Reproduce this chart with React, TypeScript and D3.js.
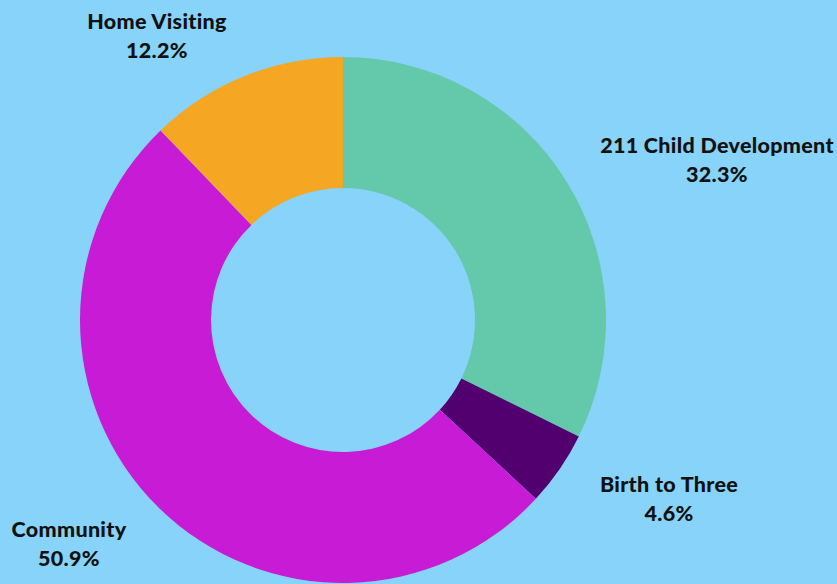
import React from "react";
import * as d3 from "d3";

const categories = ["211 Child Development", "Birth to Three", "Community", "Home Visiting"];
const values = [32.3, 4.6, 50.9, 12.2];
const colors = ["#64C8AA", "#520070", "#C71BD6", "#F5A623"];
const labelPos: [number, number][] = [
  [717, 153],
  [669, 492],
  [69, 537],
  [157, 29],
];

const W = 837;
const H = 584;

export default function App() {
  const cx = 343;
  const cy = 320;
  const outerR = 263;
  const innerR = 132;
  const pie = d3.pie<number>().sort(null).value((d) => d);
  const arcs = pie(values);
  const arcGen = d3.arc<d3.PieArcDatum<number>>().innerRadius(innerR).outerRadius(outerR);
  return (
    <svg
      width={W}
      height={H}
      style={{ position: "absolute", left: 0, top: 0, display: "block" }}
    >
      <rect x={0} y={0} width={W} height={H} fill="#87D3FA" />
      <g transform={`translate(${cx},${cy})`}>
        {arcs.map((a, i) => (
          <path key={i} d={arcGen(a) || ""} fill={colors[i]} />
        ))}
      </g>
      {categories.map((c, i) => (
        <text
          key={c}
          x={labelPos[i][0]}
          y={labelPos[i][1]}
          textAnchor="middle"
          fontFamily="Lato, 'Open Sans', sans-serif"
          fontWeight={900}
          fontSize={21.5}
          letterSpacing={0.3}
          fill="#111111"
        >
          <tspan x={labelPos[i][0]}>{c}</tspan>
          <tspan x={labelPos[i][0]} dy={28.5}>
            {values[i].toFixed(1)}%
          </tspan>
        </text>
      ))}
    </svg>
  );
}
